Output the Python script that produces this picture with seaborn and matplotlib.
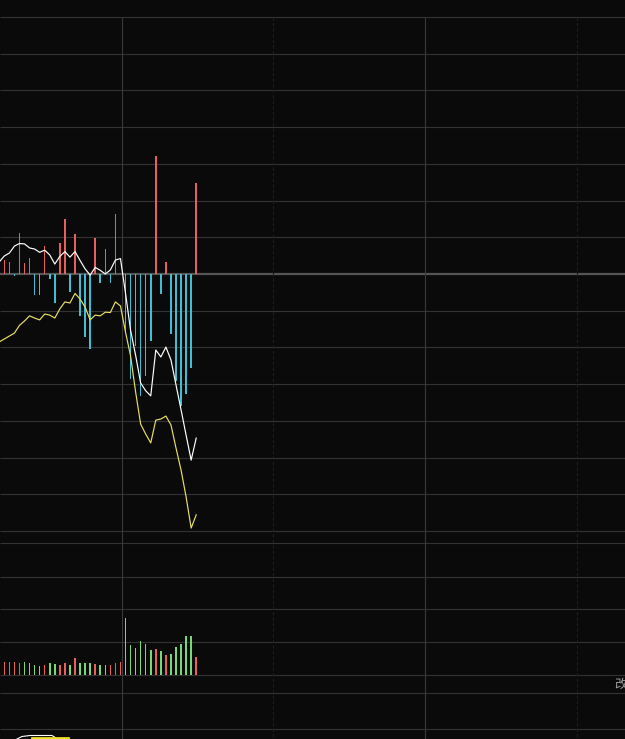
import matplotlib
matplotlib.use("Agg")
from matplotlib import pyplot as plt
import pandas as pd
import seaborn as sns

# minute index; point 0 sits just off the left edge of the crop
minutes = list(range(40))

# price line (white) and average price (yellow), in grid units from the zero line
price = [0.33, 0.49, 0.57, 0.76, 0.83, 0.82, 0.71, 0.68, 0.59, 0.65,
         0.52, 0.27, 0.48, 0.61, 0.46, 0.61, 0.37, 0.14, -0.03, 0.18,
         0.10, 0.00, 0.11, 0.38, 0.42, -0.52, -1.53, -2.21, -2.97, -3.18,
         -3.32, -2.07, -2.26, -1.99, -2.34, -3.02, -3.70, -4.39, -5.07, -4.47]
avg_price = [-1.85, -1.77, -1.69, -1.61, -1.40, -1.28, -1.14, -1.20, -1.25, -1.09,
             -1.12, -1.20, -0.95, -0.76, -0.79, -0.53, -0.68, -0.90, -1.25, -1.12,
             -1.14, -1.04, -1.05, -0.76, -0.87, -1.58, -2.23, -3.21, -4.09, -4.36,
             -4.60, -3.98, -3.95, -3.87, -4.11, -4.74, -5.34, -6.07, -6.92, -6.56]

# flow bars for minutes 1..39
flow = [0.37, 0.34, -0.06, 1.13, 0.31, 0.44, -0.58, -0.56, 0.76, -0.14,
        -0.78, 0.85, 1.49, -0.48, 1.08, -1.14, -1.71, -2.05, 0.97, -0.25,
        0.69, -0.24, 1.64, 0.0, -1.55, -2.86, -1.96, -3.32, -2.78, -1.83,
        3.22, -0.54, 0.32, -1.63, -2.91, -3.60, -3.27, -2.56, 2.49]

# volume bars for minutes 1..39 and their side (r = up, g = down)
volume = [39, 39, 39, 36, 39, 36, 30, 27, 30, 36,
          33, 30, 36, 30, 52, 36, 36, 36, 33, 30,
          30, 30, 36, 39, 173, 91, 82, 103, 94, 76,
          79, 73, 61, 65, 85, 95, 118, 118, 55]
vol_side = ['r', 'r', 'r', 'r', 'g', 'g', 'g', 'g', 'r', 'g',
            'g', 'r', 'r', 'g', 'r', 'g', 'g', 'g', 'r', 'g',
            'g', 'r', 'r', 'r', 'g', 'g', 'g', 'g', 'g', 'g',
            'r', 'g', 'r', 'g', 'g', 'g', 'g', 'g', 'r']

BG = '#0a0a0a'
W, H = 625, 739
XLIM = (0.75 / 5.05, (W + 0.75) / 5.05)  # x pixel = -0.75 + 5.05 * minute
RED, CYAN, GREEN = '#e8605e', '#3fbfd4', '#78d878'


def px_axes(fig, top, bottom):
    """Axes spanning the full width between two pixel rows."""
    ax = fig.add_axes([0, 1 - bottom / H, 1, (bottom - top) / H])
    ax.set_facecolor('none')
    ax.set_axis_off()
    return ax


fig = plt.figure(figsize=(W / 100, H / 100), dpi=100, facecolor=BG)

# background grid in pixel coordinates
bg = fig.add_axes([0, 0, 1, 1])
bg.set_xlim(0, W)
bg.set_ylim(H, 0)
bg.set_axis_off()
bg.add_patch(plt.Rectangle((0, 0), W, H, color=BG, zorder=0))
top_rows = [17 + k * 514 / 14 for k in range(15) if k != 7]
bg.hlines(top_rows, 0, W, color='#333333', lw=0.8)
bg.hlines(274, 0, W, color='#555555', lw=1.6)
bg.hlines([543.3, 576.7, 609.3, 642.3, 675.3, 693.3, 729], 0, W, color='#333333', lw=0.8)
bg.vlines([122, 425], 17, H, color='#3a3a3a', lw=0.8)
bg.vlines([273, 577], 17, H, color='#1e1e1e', lw=0.8, linestyles=(0, (3, 2)))
bg.text(614, 684, '改', color='#a0a0a0', fontsize=9, va='center', ha='left',
        family=['Noto Sans CJK SC', 'DejaVu Sans'])
# little marker peeking in at the bottom of the lowest panel
bg.plot([17, 22, 30, 52, 56], [739, 736.5, 735.5, 735.5, 738], color='white', lw=0.8)
bg.plot([32, 68], [738.3, 738.3], color='#f0e020', lw=2)

# price panel
ax1 = px_axes(fig, 17, 531)
df_flow = pd.DataFrame({'minute': minutes[1:], 'flow': flow})
df_flow['side'] = ['up' if v >= 0 else 'down' for v in flow]
sns.barplot(data=df_flow, x='minute', y='flow', hue='side', native_scale=True,
            dodge=False, width=0.3, palette={'up': RED, 'down': CYAN},
            saturation=1, errorbar=None, legend=False, linewidth=0,
            antialiased=False, ax=ax1)
df_line = pd.DataFrame({'minute': minutes, 'price': price, 'avg': avg_price})
sns.lineplot(data=df_line, x='minute', y='avg', color='#e8e060', lw=0.85,
             estimator=None, sort=False, ax=ax1)
sns.lineplot(data=df_line, x='minute', y='price', color='white', lw=0.85,
             estimator=None, sort=False, ax=ax1)
ax1.set_xlim(*XLIM)
ax1.set_ylim(-7, 7)
ax1.set_axis_off()

# volume panel
ax2 = px_axes(fig, 543.3, 675.3)
df_vol = pd.DataFrame({'minute': minutes[1:], 'volume': volume, 'side': vol_side})
sns.barplot(data=df_vol, x='minute', y='volume', hue='side', native_scale=True,
            dodge=False, width=0.3, palette={'r': RED, 'g': GREEN},
            saturation=1, errorbar=None, legend=False, linewidth=0,
            antialiased=False, ax=ax2)
ax2.set_xlim(*XLIM)
ax2.set_ylim(0, 400)
ax2.set_axis_off()

fig.savefig('out.png', dpi=100, facecolor=BG)
